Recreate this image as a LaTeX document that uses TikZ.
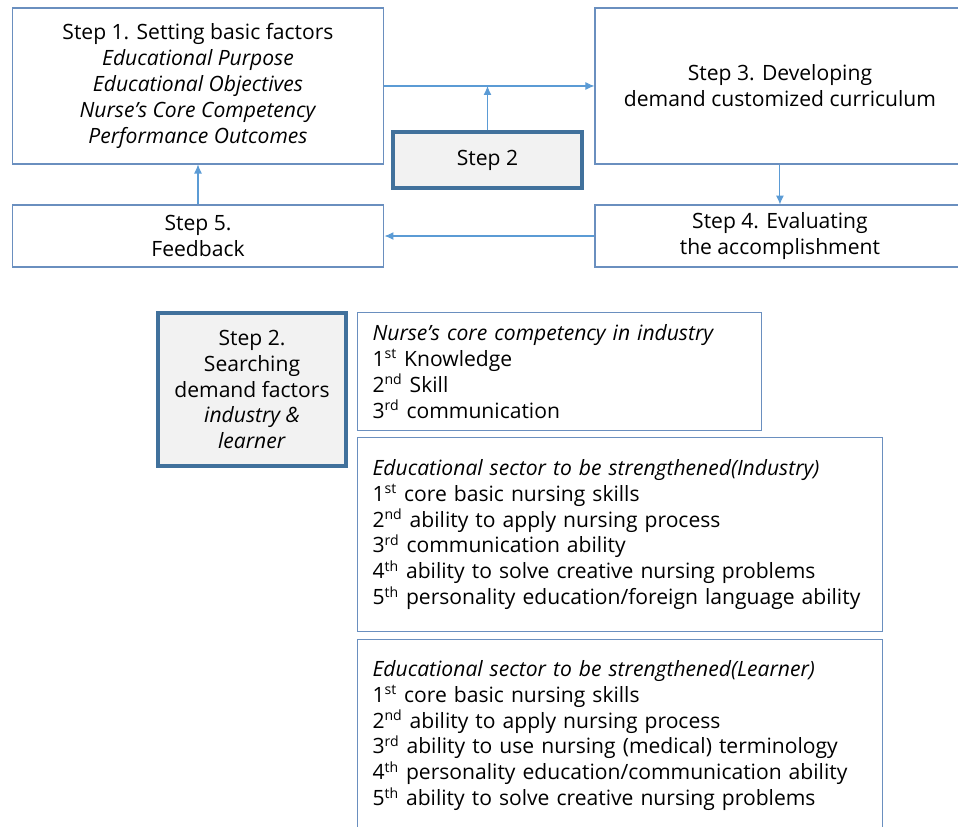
\documentclass[tikz,border=0pt]{standalone}
\usepackage{fontspec}
\setmainfont{Open Sans}
\usetikzlibrary{arrows.meta,positioning}

\definecolor{boxline}{HTML}{6A8FBF}
\definecolor{stepline}{HTML}{41719C}
\definecolor{stepfill}{HTML}{F2F2F2}
\definecolor{flowline}{HTML}{5B9BD5}

\tikzset{
  box/.style={draw=boxline, line width=0.6pt, align=center, inner sep=0pt},
  stepbox/.style={draw=stepline, fill=stepfill, line width=1.8pt, align=center, inner sep=0pt},
  listbox/.style={draw=boxline, line width=0.6pt, align=left, inner ysep=0pt, inner xsep=0.3cm},
  flow/.style={draw=flowline, line width=0.6pt},
}

\begin{document}
\begin{tikzpicture}[x=0.02cm, y=-0.02cm, >={Latex[length=0.18cm,width=0.16cm]}, font=\fontsize{12}{14.74}\selectfont]
    \path[use as bounding box, clip] (0,0) rectangle (958,827);

    % cycle
    \node(step1) [box, minimum width=7.44cm, minimum height=3.12cm] at (198,86)
        {Step 1. Setting basic factors\\ \textit{Educational Purpose}\\ \textit{Educational Objectives}\\
         \textit{Nurse's Core Competency}\\ \textit{Performance Outcomes}};
    \node(step3) [box, minimum width=7.4cm, minimum height=3.12cm, right=4.2cm of step1]
        {Step 3. Developing\\ demand customized curriculum};
    \node(step5) [box, minimum width=7.44cm, minimum height=1.24cm, below=0.8cm of step1]
        {Step 5.\\ Feedback};
    \node(step4) [box, minimum width=7.4cm, minimum height=1.24cm, below=0.8cm of step3]
        {Step 4. Evaluating\\ the accomplishment};
    \node(step2) [stepbox, minimum width=3.78cm, minimum height=1.12cm] at (487.5,160) {Step 2};

    % step 2 detail
    \node(search) [stepbox, minimum width=3.76cm, minimum height=3.06cm] at (252,389.5)
        {Step 2.\\ Searching\\ demand factors\\ \textit{industry \&}\\ \textit{learner}};
    \node(core) [listbox, text width=7.48cm, minimum height=2.36cm, anchor=north west] at (357,312)
        {\textit{Nurse's core competency in industry}\\
         1\textsuperscript{st} Knowledge\\
         2\textsuperscript{nd} Skill\\
         3\textsuperscript{rd} communication};
    \node(indus) [listbox, text width=9.9cm, minimum height=3.88cm, below=0.12cm of core.south west, anchor=north west]
        {\textit{Educational sector to be strengthened(Industry)}\\
         1\textsuperscript{st} core basic nursing skills\\
         2\textsuperscript{nd} ability to apply nursing process\\
         3\textsuperscript{rd} communication ability\\
         4\textsuperscript{th} ability to solve creative nursing problems\\
         5\textsuperscript{th} personality education/foreign language ability};
    \node(learn) [listbox, text width=9.9cm, minimum height=3.84cm, below=0.14cm of indus.south west, anchor=north west]
        {\textit{Educational sector to be strengthened(Learner)}\\
         1\textsuperscript{st} core basic nursing skills\\
         2\textsuperscript{nd} ability to apply nursing process\\
         3\textsuperscript{rd} ability to use nursing (medical) terminology\\
         4\textsuperscript{th} personality education/communication ability\\
         5\textsuperscript{th} ability to solve creative nursing problems};

    % arrows
    \draw [->][flow] (step1) -- (step3);
    \draw [->][flow] (step2) -- (step2 |- step1.east);
    \draw [->][flow] (step3) -- (step4);
    \draw [->][flow] (step4) -- (step5);
    \draw [->][flow] (step5) -- (step1);
\end{tikzpicture}
\end{document}
